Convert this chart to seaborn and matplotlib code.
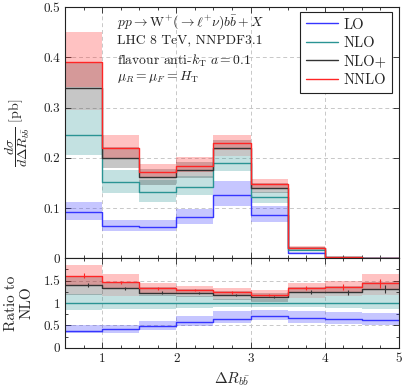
import matplotlib
matplotlib.use('Agg')
import matplotlib.pyplot as plt
from matplotlib.ticker import MultipleLocator, FuncFormatter
import numpy as np
import pandas as pd
import seaborn as sns

# bin edges of Delta R_bb
edges = [0.5, 1.0, 1.5, 2.0, 2.5, 3.0, 3.5, 4.0, 4.5, 5.0]

# main panel: d sigma / d Delta R [pb], central values and scale bands
lo_val = [0.092, 0.064, 0.063, 0.082, 0.125, 0.086, 0.011, 0.0013, 0.0004]
lo_hi = [0.112, 0.076, 0.077, 0.098, 0.153, 0.104, 0.013, 0.0016, 0.0005]
lo_lo = [0.076, 0.054, 0.055, 0.069, 0.104, 0.072, 0.009, 0.0011, 0.0003]

nlo_val = [0.245, 0.152, 0.131, 0.141, 0.189, 0.121, 0.017, 0.0020, 0.0006]
nlo_hi = [0.296, 0.176, 0.155, 0.164, 0.204, 0.132, 0.019, 0.0023, 0.0007]
nlo_lo = [0.206, 0.130, 0.113, 0.126, 0.173, 0.110, 0.015, 0.0017, 0.0005]

nlop_val = [0.338, 0.200, 0.161, 0.176, 0.219, 0.139, 0.020, 0.0026, 0.0008]
nlop_hi = [0.390, 0.222, 0.178, 0.192, 0.236, 0.150, 0.022, 0.0029, 0.0009]
nlop_lo = [0.296, 0.180, 0.146, 0.160, 0.204, 0.129, 0.018, 0.0023, 0.0007]

nnlo_val = [0.390, 0.220, 0.171, 0.183, 0.229, 0.148, 0.021, 0.0028, 0.0009]
nnlo_hi = [0.450, 0.246, 0.187, 0.201, 0.246, 0.157, 0.024, 0.0033, 0.0011]
nnlo_lo = [0.340, 0.200, 0.160, 0.172, 0.215, 0.139, 0.019, 0.0024, 0.0008]

# ratio panel: ratio to NLO
lo_r = [0.37, 0.42, 0.49, 0.57, 0.64, 0.71, 0.67, 0.64, 0.62]
lo_r_hi = [0.50, 0.51, 0.60, 0.70, 0.81, 0.85, 0.81, 0.79, 0.77]
lo_r_lo = [0.32, 0.34, 0.40, 0.48, 0.55, 0.61, 0.55, 0.53, 0.50]

nlo_r = [1.0, 1.0, 1.0, 1.0, 1.0, 1.0, 1.0, 1.0, 1.0]
nlo_r_hi = [1.21, 1.16, 1.18, 1.16, 1.08, 1.09, 1.12, 1.15, 1.17]
nlo_r_lo = [0.84, 0.86, 0.86, 0.89, 0.92, 0.91, 0.90, 0.88, 0.87]

nlop_r = [1.40, 1.33, 1.23, 1.22, 1.18, 1.13, 1.24, 1.24, 1.32]
nlop_r_hi = [1.60, 1.46, 1.35, 1.32, 1.26, 1.22, 1.36, 1.38, 1.48]
nlop_r_lo = [1.19, 1.15, 1.15, 1.13, 1.07, 1.03, 1.11, 1.15, 1.17]
nlop_r_err = [0.04, 0.03, 0.03, 0.02, 0.02, 0.02, 0.04, 0.06, 0.09]

nnlo_r = [1.61, 1.46, 1.33, 1.29, 1.24, 1.18, 1.33, 1.35, 1.44]
nnlo_r_hi = [1.85, 1.65, 1.44, 1.39, 1.33, 1.30, 1.44, 1.49, 1.65]
nnlo_r_lo = [1.40, 1.33, 1.23, 1.22, 1.18, 1.13, 1.24, 1.24, 1.32]
nnlo_r_err = [0.05, 0.03, 0.03, 0.03, 0.03, 0.03, 0.05, 0.07, 0.10]

labels = ['LO', 'NLO', 'NLO+', 'NNLO']
colors = ['#3535ff', '#2a9494', '#333333', '#ff2525']

sns.set_style('ticks')
plt.rcParams['font.family'] = ['cmr10']
plt.rcParams['mathtext.fontset'] = 'cm'
plt.rcParams['axes.unicode_minus'] = False
plt.rcParams['axes.formatter.use_mathtext'] = True


def steps(vals):
    return list(vals) + [vals[-1]]


def draw_panel(ax, series):
    # bands first, then lines on top
    for (val, lo, hi), c in zip(series, colors):
        ax.fill_between(edges, steps(lo), steps(hi), step='post',
                        color=c, alpha=0.28, lw=0)
    handles = []
    for (val, lo, hi), c, lab in zip(series, colors, labels):
        df = pd.DataFrame({'x': edges, 'y': steps(val)})
        sns.lineplot(data=df, x='x', y='y', ax=ax, color=c, lw=1.0,
                     drawstyle='steps-post', estimator=None, sort=False)
        handles.append(plt.Line2D([], [], color=c, lw=1.0, label=lab))
    return handles


def style_axes(ax):
    ax.set_xlim(0.5, 5)
    ax.xaxis.set_major_locator(MultipleLocator(1))
    ax.xaxis.set_minor_locator(MultipleLocator(0.25))
    ax.tick_params(which='both', direction='in', top=True, right=True,
                   labelsize=9.5, colors='#222222')
    ax.tick_params(which='major', length=4, width=0.6)
    ax.tick_params(which='minor', length=2, width=0.6)
    ax.grid(True, which='major', ls=(0, (4, 3)), color='#c8c8c8', lw=0.7)
    ax.set_axisbelow(True)
    for s in ax.spines.values():
        s.set_linewidth(0.8)
        s.set_color('#222222')
    ax.set_xlabel('')
    ax.set_ylabel('')


fig = plt.figure(figsize=(4.03, 3.9), dpi=100)
ax = fig.add_axes([65 / 403, 1 - 258.3 / 390, 334 / 403, (258.3 - 7) / 390])
rax = fig.add_axes([65 / 403, 1 - 347.7 / 390, 334 / 403, (347.7 - 258.3) / 390])

fmt = FuncFormatter(lambda v, p: '%g' % v)

# main panel
handles = draw_panel(ax, [(lo_val, lo_lo, lo_hi), (nlo_val, nlo_lo, nlo_hi),
                          (nlop_val, nlop_lo, nlop_hi), (nnlo_val, nnlo_lo, nnlo_hi)])
style_axes(ax)
ax.set_ylim(0, 0.5)
ax.set_yticks([0, 0.1, 0.2, 0.3, 0.4, 0.5])
ax.yaxis.set_major_formatter(fmt)
ax.tick_params(axis='x', labelbottom=False)
ax.set_ylabel(r'$\dfrac{d\sigma}{d\Delta R_{b\bar{b}}}$ [pb]', fontsize=10)
ax.yaxis.set_label_coords(-0.1, 0.5)

ax.legend(handles=handles, loc='upper right', bbox_to_anchor=(0.98, 0.98),
          fontsize=10.5, frameon=True, fancybox=False, edgecolor='#222222',
          framealpha=1, handlelength=2.2, labelspacing=0.32, borderpad=0.4,
          handletextpad=0.4, borderaxespad=0)
ax.get_legend().get_frame().set_linewidth(0.8)

info = [r'$pp \to \mathrm{W}^{+}(\to \ell^{+}\nu)b\bar{b} + X$',
        'LHC 8 TeV, NNPDF3.1',
        r'flavour anti-$k_\mathrm{T}$ $a = 0.1$',
        r'$\mu_R = \mu_F = H_\mathrm{T}$']
for t, yy in zip(info, [0.94, 0.868, 0.787, 0.722]):
    ax.text(0.157, yy, t, transform=ax.transAxes, fontsize=9.8,
            va='center', ha='left', color='#222222')

# ratio panel
draw_panel(rax, [(lo_r, lo_r_lo, lo_r_hi), (nlo_r, nlo_r_lo, nlo_r_hi),
                 (nlop_r, nlop_r_lo, nlop_r_hi), (nnlo_r, nnlo_r_lo, nnlo_r_hi)])
centers = [(a + b) / 2 for a, b in zip(edges[:-1], edges[1:])]
rax.errorbar(centers, nnlo_r, yerr=nnlo_r_err, fmt='none', ecolor=colors[3],
             elinewidth=0.8, capsize=0)
rax.errorbar([c + 0.06 for c in centers], nlop_r, yerr=nlop_r_err, fmt='none',
             ecolor=colors[2], elinewidth=0.8, capsize=0)
style_axes(rax)
rax.set_ylim(0, 2)
rax.set_yticks([0, 0.5, 1, 1.5])
rax.yaxis.set_minor_locator(MultipleLocator(0.25))
rax.yaxis.set_major_formatter(fmt)
rax.xaxis.set_major_formatter(fmt)
rax.set_ylabel('Ratio to\nNLO', fontsize=11, linespacing=1.1)
rax.yaxis.set_label_coords(-0.095, 0.5)
rax.set_xlabel(r'$\Delta R_{b\bar{b}}$', fontsize=11)
rax.xaxis.set_label_coords(0.5, -0.25)

fig.savefig('out.png', dpi=100)
